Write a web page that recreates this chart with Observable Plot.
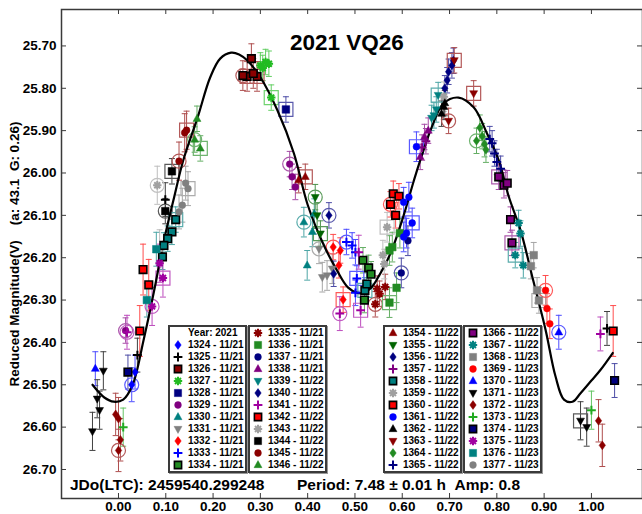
<!DOCTYPE html>
<html><head><meta charset="utf-8">
<script src="https://cdn.jsdelivr.net/npm/d3@7"></script>
<script src="https://cdn.jsdelivr.net/npm/@observablehq/plot@0.6"></script>
<style>
body{margin:0;background:#fff;}
#wrap{position:relative;width:642px;height:514px;overflow:hidden;font-family:"Liberation Sans",Arial,sans-serif;font-weight:bold;color:#000;}
#wrap svg.main{position:absolute;left:0;top:0;}
.lg{position:absolute;border:2px solid #3a3a3a;background:#fff;box-sizing:border-box;box-shadow:1px 1px 0 #999;}
.row{position:absolute;white-space:nowrap;font-size:10px;line-height:12px;height:12px;}
.ov{position:absolute;white-space:pre;line-height:1;}
</style></head><body><div id="wrap"></div>
<script>
// ---------------- DATA ----------------
const title = "2021 VQ26";
const yLabel = "Reduced Magnitude(V)\u00a0\u00a0\u00a0\u00a0(a: 43.1\u00a0\u00a0G: 0.26)";
const footLeft = "JDo(LTC): 2459540.299248";
const footRight = "Period: 7.48 \u00b1 0.01 h\u00a0\u00a0Amp: 0.8";
const legendYear = "Year: 2021";
const xTicks = [0,0.1,0.2,0.3,0.4,0.5,0.6,0.7,0.8,0.9,1.0];
const yTicks = [25.7,25.8,25.9,26.0,26.1,26.2,26.3,26.4,26.5,26.6,26.7];

const sessions = [1324,1325,1326,1327,1328,1329,1330,1331,1332,1333,1334,
  1335,1336,1337,1338,1339,1340,1341,1342,1343,1344,1345,1346,
  1354,1355,1356,1357,1358,1359,1360,1361,1362,1363,1364,1365,
  1366,1367,1368,1369,1370,1371,1372,1373,1374,1375,1376,1377];
const sessionDates = ["11/21","11/21","11/21","11/21","11/21","11/21","11/21","11/21","11/21","11/21","11/21",
  "11/21","11/21","11/21","11/21","11/22","11/22","11/22","11/22","11/22","11/22","11/22","11/22",
  "11/22","11/22","11/22","11/22","11/22","11/22","11/22","11/22","11/22","11/22","11/22","11/22",
  "11/22","11/22","11/23","11/23","11/23","11/23","11/23","11/23","11/23","11/23","11/23","11/23"];
const sessionErr = [0.04,0.04,0.035,0.03,0.03,0.03,0.035,0.035,0.03,0.03,0.03,
  0.03,0.035,0.035,0.03,0.03,0.03,0.04,0.06,0.045,0.03,0.045,0.03,
  0.03,0.03,0.03,0.03,0.03,0.035,0.03,0.035,0.03,0.03,0.03,0.03,
  0.03,0.03,0.03,0.035,0.04,0.045,0.05,0.045,0.04,0.045,0.04,0.04];

// fitted curve (phase, reduced magnitude)
const fitPhase = [-0.055,-0.03,-0.01,0.01,0.03,0.053,0.075,0.089,0.10,0.116,0.137,0.167,0.194,0.215,0.238,0.255,0.272,0.30,0.336,0.371,0.40,0.434,0.462,0.485,0.505,0.518,0.535,0.547,0.575,0.603,0.624,0.638,0.663,0.687,0.719,0.751,0.779,0.804,0.825,0.85,0.877,0.903,0.924,0.942,0.96,0.977,1.0,1.019,1.045];
const fitMag = [26.50,26.53,26.54,26.535,26.50,26.395,26.28,26.199,26.14,26.065,25.97,25.87,25.774,25.73,25.716,25.72,25.734,25.774,25.852,25.954,26.075,26.17,26.23,26.27,26.283,26.283,26.27,26.25,26.19,26.10,26.02,25.97,25.89,25.836,25.822,25.845,25.906,25.97,26.055,26.135,26.254,26.37,26.48,26.535,26.54,26.52,26.49,26.465,26.425];

// observations per session: [phase, magnitude, mark (0 none, 1 circled, 2 boxed)]
const p1324 = [[0.035,26.47,0],[0.028,26.50,1]];
const p1325 = [[0.099,26.063,0],[1.033,26.367,0],[0.040,26.43,0]];
const p1326 = [[0.281,25.730,0],[0.272,25.772,2],[0.293,25.772,2],[0.285,25.765,0],[0.263,25.770,1]];
const p1327 = [[0.300,25.746,0],[0.311,25.738,0],[0.318,25.742,0],[0.305,25.752,0],[0.323,25.822,2]];
const p1328 = [[0.354,25.850,2]];
const p1329 = [[0.362,25.979,1],[0.367,26.009,0],[0.374,26.033,0],[0.015,26.372,1]];
const p1330 = [[0.392,26.116,1],[0.399,26.218,0],[0.410,26.139,0],[0.414,26.096,0]];
const p1331 = [[0.424,26.179,1],[0.431,26.246,0],[0.441,26.242,0],[0.452,26.226,0]];
const p1332 = [[0.454,26.175,1],[0.469,26.183,0],[0.466,26.218,0],[0.475,26.299,2]];
const p1333 = [[0.482,26.163,1],[0.494,26.171,0],[0.501,26.187,0],[0.504,26.249,2],[0.501,26.283,0]];
const p1334 = [[0.517,26.206,0],[0.529,26.224,0],[0.534,26.239,0],[0.520,26.300,0]];
const p1335 = [[0.547,26.273,0],[0.564,26.269,0],[0.552,26.285,0],[0.543,26.310,1]];
const p1336 = [[0.595,26.142,0],[0.579,26.175,0],[0.573,26.183,0],[0.588,26.271,0],[0.573,26.306,2]];
const p1337 = [[0.598,26.236,1],[0.612,26.160,0]];
const p1338 = [[0.638,25.962,0],[0.647,25.915,0],[0.655,25.900,0]];
const p1339 = [[0.676,25.816,2],[0.667,25.864,0],[0.662,25.870,0],[0.672,25.850,0]];
const p1340 = [[0.445,26.100,1],[0.455,26.238,0]];
const p1341 = [[0.018,26.376,1],[0.508,26.187,0],[0.468,26.332,1],[0.512,26.324,2],[1.019,26.380,0]];
const p1342 = [[0.052,26.228,0],[0.064,26.264,0],[0.045,26.373,0],[1.046,26.373,0]];
const p1343 = [[0.082,26.029,1],[0.087,26.179,0]];
const p1344 = [[0.113,25.996,2],[0.099,26.090,1]];
const p1345 = [[0.140,25.905,0],[0.144,25.899,2],[0.128,25.972,1]];
const p1346 = [[0.166,25.872,0],[0.161,25.921,1],[0.173,25.942,2]];
const p1354 = [[0.395,26.009,2],[0.381,26.017,0]];
const p1355 = [[0.416,26.057,1],[0.427,26.143,2],[0.420,26.100,0]];
const p1356 = [[0.705,25.746,0],[0.698,25.761,0],[0.695,25.781,0],[0.690,25.800,0],[0.708,25.735,0]];
const p1357 = [[0.642,25.940,0],[0.650,25.925,0]];
const p1358 = [[0.121,26.110,2],[0.113,26.139,0],[0.104,26.155,0],[0.096,26.171,0],[0.093,26.198,0],[0.521,26.277,2],[0.525,26.262,0]];
const p1359 = [[0.568,26.128,2],[0.559,26.194,0],[0.562,26.215,0],[0.688,25.820,0]];
const p1360 = [[0.581,26.049,0],[0.593,26.055,0],[0.575,26.074,1],[0.586,26.100,0]];
const p1361 = [[0.614,26.057,0],[0.603,26.069,0],[0.621,26.118,2],[0.609,26.142,0],[0.603,26.151,0],[0.630,25.938,2]];
const p1362 = [[0.688,25.844,0],[0.690,25.835,0],[0.683,25.860,0]];
const p1363 = [[0.710,25.734,2],[0.751,25.812,2],[0.698,25.877,1]];
const p1364 = [[0.764,25.893,0],[0.769,25.913,0],[0.757,25.924,1],[0.774,25.932,0],[0.777,25.945,0]];
const p1365 = [[0.790,25.930,0],[0.795,25.954,0],[0.800,25.974,0],[0.808,25.990,0],[0.785,25.920,0]];
const p1366 = [[0.815,26.029,0],[0.822,26.024,0],[0.829,26.110,0],[0.832,26.165,2],[0.804,26.009,2]];
const p1367 = [[0.846,26.118,0],[0.850,26.143,0],[0.839,26.194,2],[0.856,26.218,0]];
const p1368 = [[0.878,26.194,0],[0.872,26.220,0],[0.885,26.277,0],[0.889,26.301,2]];
const p1369 = [[0.903,26.277,1],[0.906,26.320,0],[0.912,26.356,0]];
const p1370 = [[0.931,26.376,1],[-0.049,26.462,0]];
const p1371 = [[-0.032,26.467,0],[-0.045,26.533,0],[-0.040,26.560,0],[-0.055,26.610,0],[0.977,26.585,2],[0.990,26.600,0]];
const p1372 = [[-0.006,26.570,0],[0.000,26.580,0],[0.004,26.630,0],[0.000,26.655,1],[1.015,26.585,0],[1.023,26.643,0]];
const p1373 = [[0.010,26.600,0],[1.000,26.560,0]];
const p1374 = [[0.020,26.470,0],[1.049,26.490,0]];
const p1375 = [[0.087,26.213,0],[0.094,26.248,2],[0.071,26.315,1]];
const p1376 = [[0.080,26.180,0],[0.060,26.300,0]];
const p1377 = [[0.142,26.024,0],[0.147,26.037,2],[0.135,26.076,0],[0.128,26.092,0]];
const sessionPoints = [p1324,p1325,p1326,p1327,p1328,p1329,p1330,p1331,p1332,p1333,p1334,
  p1335,p1336,p1337,p1338,p1339,p1340,p1341,p1342,p1343,p1344,p1345,p1346,
  p1354,p1355,p1356,p1357,p1358,p1359,p1360,p1361,p1362,p1363,p1364,p1365,
  p1366,p1367,p1368,p1369,p1370,p1371,p1372,p1373,p1374,p1375,p1376,p1377];

// ---------------- STYLE ----------------
const STY = {
 1324:["dia","#0000ff"],1325:["plus","#000000"],1326:["sqb","#8b0000"],1327:["ast","#22bb22"],
 1328:["sq","#000080"],1329:["cir","#800080"],1330:["tri","#008080"],1331:["trid","#808080"],
 1332:["dia","#ff0000"],1333:["plus","#0000ff"],1334:["sqb","#228b22"],1335:["ast","#8b0000"],
 1336:["sq","#228b22"],1337:["cir","#000080"],1338:["tri","#800080"],1339:["trid","#008080"],
 1340:["dia","#000080"],1341:["plus","#a000a0"],1342:["sqb","#ff0000"],1343:["ast","#a0a0a0"],
 1344:["sq","#000000"],1345:["cir","#8b0000"],1346:["tri","#228b22"],
 1354:["tri","#8b0000"],1355:["trid","#006400"],1356:["dia","#000080"],1357:["plus","#800080"],
 1358:["sqb","#008080"],1359:["ast","#a0a0a0"],1360:["sqb","#ff0000"],1361:["cir","#0000ff"],
 1362:["tri","#000000"],1363:["trid","#8b0000"],1364:["dia","#228b22"],1365:["plus","#000080"],
 1366:["sqb","#800080"],1367:["ast","#008080"],1368:["sq","#808080"],1369:["cir","#ff0000"],
 1370:["tri","#0000ff"],1371:["trid","#000000"],1372:["dia","#8b0000"],1373:["plus","#22aa22"],
 1374:["sqb","#000080"],1375:["ast","#a000a0"],1376:["sq","#008080"],1377:["cir","#808080"]
};
const R = s => Math.sqrt(s/Math.PI);
const SYM = {
  sq:{draw(c,s){const r=R(s)*0.9;c.rect(-r,-r,2*r,2*r);}},
  sqb:{draw(c,s){const r=R(s)*0.9;c.rect(-r,-r,2*r,2*r);}},
  cir:{draw(c,s){const r=R(s)*0.85;c.moveTo(r,0);c.arc(0,0,r,0,2*Math.PI);}},
  tri:{draw(c,s){const r=R(s)*1.1;c.moveTo(0,-r);c.lineTo(r*0.9,r*0.6);c.lineTo(-r*0.9,r*0.6);c.closePath();}},
  trid:{draw(c,s){const r=R(s)*1.1;c.moveTo(0,r);c.lineTo(r*0.9,-r*0.6);c.lineTo(-r*0.9,-r*0.6);c.closePath();}},
  dia:{draw(c,s){const r=R(s);c.moveTo(0,-r*1.1);c.lineTo(r*0.8,0);c.lineTo(0,r*1.1);c.lineTo(-r*0.8,0);c.closePath();}},
  plus:{draw(c,s){const r=R(s)*1.1;c.moveTo(-r,0);c.lineTo(r,0);c.moveTo(0,-r);c.lineTo(0,r);}},
  ast:{draw(c,s){const r=R(s)*1.05;for(let i=0;i<4;i++){const a=i*Math.PI/4,dx=r*Math.cos(a),dy=r*Math.sin(a);c.moveTo(-dx,-dy);c.lineTo(dx,dy);}}},
  ringC:{draw(c,s){const r=R(s);c.moveTo(r,0);c.arc(0,0,r,0,2*Math.PI);}},
  ringS:{draw(c,s){const r=R(s);c.rect(-r,-r,2*r,2*r);}},
  cap:{draw(c,s){const r=R(s);c.moveTo(-r,0);c.lineTo(r,0);}}
};
const lighten = (col,t) => d3.interpolateRgb(col,"#ffffff")(t);
function markStyle(kind,col){
  if(kind==="plus"||kind==="ast") return {fill:"none",stroke:col,strokeWidth:2};
  if(kind==="sqb") return {fill:col,stroke:"#000",strokeWidth:1.6};
  return {fill:col,stroke:col,strokeWidth:0.5};
}

// ---------------- PLOT ----------------
const W=642,H=514,ML=61,MR=0,MT=9,MB=16;
const PW=W-ML-MR, PH=H-MT-MB;
const errMarks=[], ringMarks=[], dotMarks=[];
sessions.forEach((s,i)=>{
  const [kind,col]=STY[s];
  const e=sessionErr[i];
  const rows=sessionPoints[i].map(([ph,m,ring])=>({ph,m,ring,lo:m-e,hi:m+e}));
  const ec=lighten(col,col==="#000000"?0.25:0.3);
  errMarks.push(Plot.ruleX(rows,{x:"ph",y1:"lo",y2:"hi",stroke:ec,strokeWidth:1}));
  errMarks.push(Plot.dot(rows,{x:"ph",y:"lo",symbol:SYM.cap,r:3,stroke:ec,strokeWidth:1}));
  errMarks.push(Plot.dot(rows,{x:"ph",y:"hi",symbol:SYM.cap,r:3,stroke:ec,strokeWidth:1}));
  const rc=lighten(col,0.35);
  ringMarks.push(Plot.dot(rows.filter(d=>d.ring===1),{x:"ph",y:"m",symbol:SYM.ringC,r:7,fill:"none",stroke:rc,strokeWidth:1.2}));
  ringMarks.push(Plot.dot(rows.filter(d=>d.ring===2),{x:"ph",y:"m",symbol:SYM.ringS,r:7,fill:"none",stroke:rc,strokeWidth:1.2}));
  dotMarks.push(Plot.dot(rows,{x:"ph",y:"m",symbol:SYM[kind],r:kind.startsWith("sq")?4.2:4,...markStyle(kind,col)}));
});
const fit = fitPhase.map((p,i)=>({ph:p,m:fitMag[i]}));
const fmt = d3.format(".2f");

const chart = Plot.plot({
  width:W,height:H,marginLeft:ML,marginRight:MR,marginTop:MT,marginBottom:MB,
  x:{domain:[-0.1205,1.108],label:null},
  y:{domain:[25.614,26.7685],reverse:true,label:null},
  style:{fontFamily:'"Liberation Sans",Arial,sans-serif',fontSize:"13.5px",fontWeight:"bold",color:"#000",background:"#fff"},
  marks:[
    ...errMarks,
    ...ringMarks,
    Plot.line(fit,{x:"ph",y:"m",curve:"catmull-rom",stroke:"#000",strokeWidth:2.2}),
    ...dotMarks,
    Plot.frame({stroke:"#3a3a3a",strokeWidth:1.5}),
    Plot.tickX(xTicks,{x:d=>d,insetBottom:PH-5,stroke:"#3a3a3a"}),
    Plot.tickX(xTicks,{x:d=>d,insetTop:PH-5,stroke:"#3a3a3a"}),
    Plot.tickY(yTicks,{y:d=>d,insetRight:PW-5,stroke:"#3a3a3a"}),
    Plot.tickY(yTicks,{y:d=>d,insetLeft:PW-5,stroke:"#3a3a3a"}),
    Plot.axisX(xTicks,{anchor:"bottom",tickSize:0,tickPadding:3,tickFormat:fmt,label:null}),
    Plot.axisY(yTicks,{anchor:"left",tickSize:0,tickPadding:5,tickFormat:fmt,label:yLabel,labelAnchor:"center",labelOffset:52,labelArrow:"none"})
  ]
});
chart.classList.add("main");
const wrap=document.getElementById("wrap");
wrap.appendChild(chart);

function ov(text,left,top,size,extra){
  const d=document.createElement("div");d.className="ov";d.textContent=text;
  d.style.left=left+"px";d.style.top=top+"px";d.style.fontSize=size+"px";
  if(extra) Object.assign(d.style,extra);
  wrap.appendChild(d);return d;
}
ov(title,290,32,22.5);
ov(footLeft,70,476.5,15.5);
ov(footRight,297,476.5,15.5);

// legend
const boxes=[{x:168,items:[null,...sessions.slice(0,11)]},{x:248,items:sessions.slice(11,23)},
             {x:383,items:sessions.slice(23,35)},{x:463,items:sessions.slice(35,47)}];
boxes.forEach(b=>{
  const box=document.createElement("div");box.className="lg";
  box.style.left=b.x+"px";box.style.top="325px";box.style.width="79px";box.style.height="148px";
  wrap.appendChild(box);
  b.items.forEach((s,j)=>{
    const cy=8+12*j-2;
    const row=document.createElement("div");row.className="row";
    row.style.top=(cy-6)+"px";row.style.left="18px";
    if(s===null){row.textContent=legendYear;box.appendChild(row);return;}
    const i=sessions.indexOf(s);
    row.textContent=s+" - "+sessionDates[i];
    box.appendChild(row);
    const [kind,col]=STY[s];
    const st=markStyle(kind,col);
    const svg=d3.create("svg").attr("width",12).attr("height",12)
      .style("position","absolute").style("left","2px").style("top",(cy-6)+"px");
    svg.append("path").attr("transform","translate(6,6)")
      .attr("d",d3.symbol(SYM[kind],Math.PI*16)())
      .attr("fill",st.fill).attr("stroke",st.stroke).attr("stroke-width",st.strokeWidth);
    box.appendChild(svg.node());
  });
});
</script></body></html>
